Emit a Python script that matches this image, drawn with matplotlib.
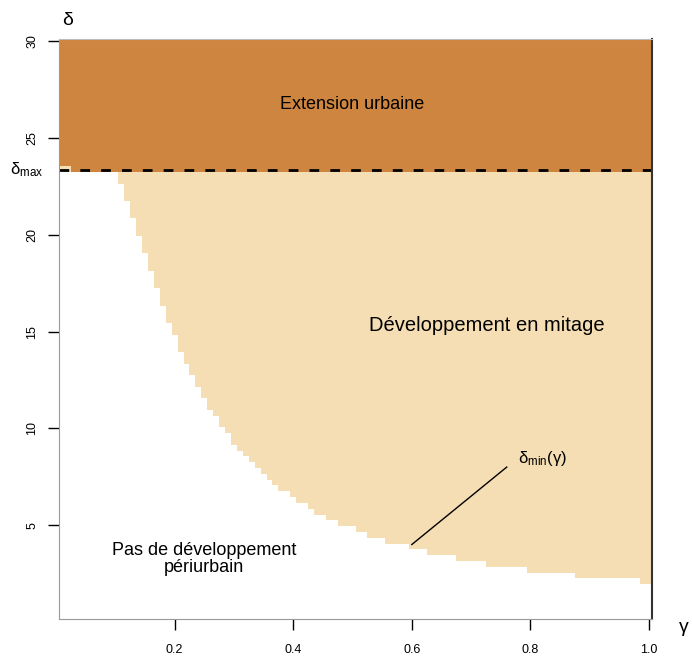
import matplotlib
matplotlib.use('Agg')
import matplotlib.pyplot as plt
import numpy as np

plt.rcParams['font.family'] = ['Liberation Sans', 'DejaVu Sans']
plt.rcParams['mathtext.fontset'] = 'custom'
plt.rcParams['mathtext.rm'] = 'Liberation Sans'
plt.rcParams['mathtext.it'] = 'Liberation Sans'
plt.rcParams['mathtext.default'] = 'regular'

# ============================================================================
# DONNÉES
# ============================================================================
# colonnes gamma où le mitage existe (0.11 ... 1.00, pas de 0.01)
gamma = np.round(np.arange(0.11, 1.0001, 0.01), 2)
# borne inférieure de la zone de mitage pour chaque colonne
delta_min = [22.65, 21.75, 20.85, 19.95, 19.05, 18.15, 17.25, 16.35, 15.45, 14.85,
             13.95, 13.35, 12.75, 12.15, 11.55, 10.95, 10.65, 10.05, 9.75, 9.15,
             8.85, 8.55, 8.25, 7.95, 7.65, 7.35, 7.05, 6.75, 6.75, 6.45,
             6.15, 6.15, 5.85, 5.55, 5.55, 5.25, 5.25, 4.95, 4.95, 4.95,
             4.65, 4.65, 4.35, 4.35, 4.35,
             4.05, 4.05, 4.05, 4.05,
             3.75, 3.75, 3.75,
             3.45, 3.45, 3.45, 3.45, 3.45,
             3.15, 3.15, 3.15, 3.15, 3.15,
             2.85, 2.85, 2.85, 2.85, 2.85, 2.85, 2.85,
             2.55, 2.55, 2.55, 2.55, 2.55, 2.55, 2.55, 2.55,
             2.25, 2.25, 2.25, 2.25, 2.25, 2.25, 2.25, 2.25, 2.25, 2.25, 2.25,
             1.95, 1.95]
delta_haut = 23.25     # bord supérieur de la zone de mitage
delta_max = 23.37      # ligne pointillée
delta_lim = (0.15, 30.15)
gamma_lim = (0.005, 1.005)

xticks = [0.2, 0.4, 0.6, 0.8, 1.0]
yticks = [5, 10, 15, 20, 25, 30]

COUL_URBAIN = '#CD853F'   # peru
COUL_MITAGE = '#F5DEB3'   # wheat

# ============================================================================
# FIGURE
# ============================================================================
fig = plt.figure(figsize=(6.92, 6.60), dpi=100)
ax = fig.add_axes([59 / 692, 41 / 660, 593 / 692, 580.5 / 660])

# extension urbaine
ax.axhspan(delta_haut, delta_lim[1], color=COUL_URBAIN, lw=0)
# petit bout de mitage à gauche au-dessus de delta_max
ax.bar([0.01, 0.02], 0.3, bottom=delta_haut, width=0.01, color=COUL_MITAGE, lw=0)

# mitage (escalier)
bords = np.append(gamma - 0.005, gamma[-1] + 0.005)
ax.stairs(delta_min, bords, baseline=delta_haut, fill=True, color=COUL_MITAGE, lw=0)

ax.axhline(delta_max, color='black', lw=2, linestyle=(0, (3.5, 4)))

ax.set_xlim(*gamma_lim)
ax.set_ylim(*delta_lim)

ax.set_xticks(xticks)
ax.set_xticklabels(['0.2', '0.4', '0.6', '0.8', '1.0'])
ax.set_yticks(yticks)
ax.set_yticklabels([str(v) for v in yticks], rotation=90, va='center')
ax.tick_params(direction='out', length=8, width=1, labelsize=9, pad=10)
ax.tick_params(axis='y', pad=7)

for cote in ['left', 'bottom']:
    ax.spines[cote].set_color('#999999')
ax.spines['top'].set_color('#bbbbbb')
ax.spines['right'].set_color('#333333')
ax.spines['right'].set_linewidth(1.5)

# textes
ax.text(0.5, 26.75, 'Extension urbaine', ha='center', va='center', fontsize=13)
ax.text(0.727, 15.3, 'Développement en mitage', ha='center', va='center', fontsize=14.5)
ax.text(0.25, 3.25, 'Pas de développement\npériurbain', ha='center', va='center',
        fontsize=13, linespacing=1.0)
ax.text(0.82, 8.45, r'δ$_{min}$(γ)', ha='center', va='center', fontsize=12)
ax.plot([0.6, 0.76], [4.0, 8.0], color='black', lw=1)

ax.text(-0.049, delta_max, r'δ$_{max}$', ha='center', va='center',
        fontsize=12, clip_on=False)
ax.text(0.02, 31.1, 'δ', ha='center', va='center', fontsize=14, clip_on=False)
ax.text(1.058, -0.3, 'γ', ha='center', va='center', fontsize=14, clip_on=False)

fig.savefig('out.png', dpi=100)
